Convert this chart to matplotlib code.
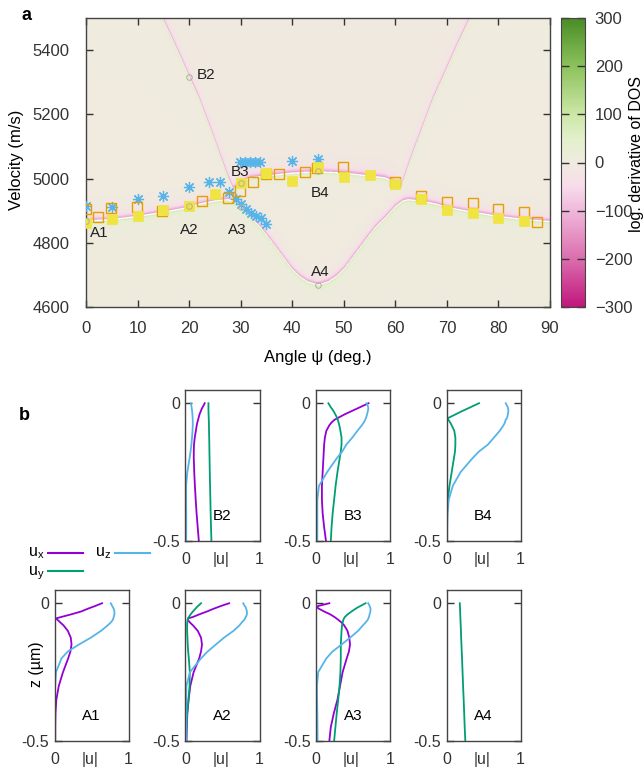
import numpy as np
import matplotlib.pyplot as plt
from matplotlib.colors import LinearSegmentedColormap
from matplotlib.lines import Line2D

plt.rcParams['font.family'] = ['Liberation Sans', 'DejaVu Sans']
plt.rcParams['mathtext.fontset'] = 'custom'
plt.rcParams['mathtext.rm'] = 'Liberation Sans'
plt.rcParams['mathtext.it'] = 'Liberation Sans'

# ---------------- panel a ----------------
# branches seen in the DOS map (angle in deg, velocity in m/s)
lo_psi = [0, 5, 10, 15, 20, 22, 25, 27.5, 28.5, 30, 32, 34, 36, 38, 40, 41.5, 43, 45,
          47, 48.5, 50, 52, 54, 56, 58, 60, 61.5, 62.5, 65, 68, 70, 75, 80, 85, 90]
lo_v = [4868, 4872, 4882, 4895, 4910, 4920, 4930, 4934, 4930, 4912, 4877, 4845, 4803, 4760, 4717, 4694, 4678, 4668,
        4678, 4694, 4717, 4760, 4803, 4845, 4877, 4912, 4930, 4934, 4930, 4920, 4910, 4895, 4882, 4872, 4866]
hi_psi = [10, 14.8, 17, 20, 22, 24, 26, 27.5, 28.5, 29.3, 30, 32, 35, 40, 45,
          50, 55, 58, 60, 60.5, 61, 61.8, 63.3, 65.3, 67.3, 69.3, 72.3, 74.5, 79.3]
hi_v = [5660, 5500, 5425, 5317, 5246, 5160, 5072, 5005, 4968, 4975, 4988, 5002, 5008, 5017, 5021,
        5017, 5008, 5002, 4988, 4975, 4968, 5005, 5075, 5160, 5246, 5317, 5425, 5500, 5660]

# measured points
ast_psi = [0, 5, 10, 15, 20, 23.8, 26, 27.8, 29.1, 30.1, 31.1, 32.0, 33.0, 34.0, 34.9,
           29.8, 30.8, 31.8, 32.8, 33.8, 40, 45]
ast_v = [4914, 4910, 4936, 4946, 4975, 4988, 4988, 4958, 4935, 4920, 4905, 4893, 4884, 4877, 4858,
         5053, 5053, 5053, 5053, 5053, 5054, 5061]
sq_open_psi = [0, 2.3, 4.8, 9.8, 14.8, 22.5, 27.5, 29.9, 32.4, 34.9, 37.4, 42.4, 44.9, 49.9,
               60, 64.9, 70, 75, 80, 85, 87.4]
sq_open_v = [4905, 4879, 4907, 4912, 4900, 4930, 4938, 4962, 4989, 5015, 5015, 5020, 5032, 5037,
             4988, 4947, 4928, 4923, 4905, 4897, 4865]
sq_full_psi = [0, 5, 10, 15, 20, 25, 30, 35, 40, 45, 50, 55, 60, 65, 70, 75, 80, 85]
sq_full_v = [4863, 4875, 4882, 4903, 4914, 4951, 4986, 5016, 4992, 5036, 5006, 5010, 4984, 4935,
             4903, 4894, 4878, 4868]

pt_names = ['A1', 'A2', 'A3', 'A4', 'B2', 'B3', 'B4']
pt_psi = [0, 20, 30, 45, 20, 30, 45]
pt_v = [4868, 4913, 4910, 4668, 5317, 4987, 5022]
lab_psi = [2.5, 20, 29.3, 45.4, 23.2, 29.9, 45.4]
lab_v = [4830, 4840, 4840, 4710, 5321, 5019, 4955]

# ---------------- panel b ----------------
Z = [0, -0.01, -0.015, -0.02, -0.03, -0.04, -0.05, -0.055, -0.06, -0.07, -0.08, -0.1,
     -0.125, -0.15, -0.175, -0.2, -0.25, -0.3, -0.35, -0.4, -0.45, -0.5]

b2_ux = [0.26, 0.24, 0.23, 0.22, 0.205, 0.19, 0.18, 0.175, 0.17, 0.16, 0.152, 0.14,
         0.125, 0.115, 0.112, 0.112, 0.118, 0.127, 0.138, 0.15, 0.165, 0.18]
b2_uy = [0.31, 0.31, 0.31, 0.31, 0.311, 0.312, 0.313, 0.314, 0.315, 0.316, 0.317, 0.318,
         0.32, 0.322, 0.323, 0.325, 0.328, 0.332, 0.336, 0.34, 0.345, 0.35]
b2_uz = [0.07, 0.08, 0.083, 0.085, 0.09, 0.093, 0.096, 0.097, 0.098, 0.098, 0.098, 0.095,
         0.088, 0.08, 0.068, 0.055, 0.025, 0.008, 0.008, 0.01, 0.01, 0.01]

b3_ux = [0.71, 0.63, 0.59, 0.55, 0.47, 0.39, 0.32, 0.285, 0.25, 0.21, 0.18, 0.14,
         0.12, 0.11, 0.105, 0.10, 0.09, 0.08, 0.08, 0.09, 0.11, 0.135]
b3_uy = [0.167, 0.19, 0.2, 0.215, 0.24, 0.26, 0.28, 0.287, 0.295, 0.305, 0.315, 0.33,
         0.345, 0.345, 0.335, 0.32, 0.29, 0.265, 0.245, 0.225, 0.21, 0.20]
b3_uz = [0.685, 0.70, 0.705, 0.707, 0.70, 0.69, 0.68, 0.672, 0.665, 0.645, 0.62, 0.56,
         0.49, 0.41, 0.355, 0.28, 0.15, 0.04, 0.018, 0.018, 0.018, 0.018]

b4_ux = [0.0] * 22
b4_uy = [0.44, 0.36, 0.32, 0.28, 0.20, 0.125, 0.05, 0.012, 0.025, 0.05, 0.07, 0.105,
         0.12, 0.12, 0.115, 0.10, 0.07, 0.04, 0.018, 0.008, 0.004, 0.0]
b4_uz = [0.80, 0.82, 0.828, 0.835, 0.835, 0.83, 0.82, 0.815, 0.80, 0.79, 0.77, 0.72,
         0.64, 0.56, 0.44, 0.35, 0.19, 0.085, 0.03, 0.015, 0.01, 0.01]

a1_ux = [0.643, 0.55, 0.50, 0.45, 0.36, 0.23, 0.09, 0.02, 0.04, 0.08, 0.12, 0.18,
         0.22, 0.23, 0.215, 0.185, 0.115, 0.058, 0.025, 0.013, 0.01, 0.01]
a1_uy = [0.004] * 22
a1_uz = [0.76, 0.78, 0.79, 0.80, 0.81, 0.81, 0.80, 0.795, 0.79, 0.76, 0.72, 0.63,
         0.49, 0.33, 0.18, 0.095, 0.02, 0.008, 0.006, 0.005, 0.005, 0.005]

a2_ux = [0.59, 0.48, 0.43, 0.38, 0.29, 0.19, 0.10, 0.035, 0.03, 0.06, 0.10, 0.165,
         0.21, 0.223, 0.21, 0.185, 0.11, 0.065, 0.042, 0.025, 0.018, 0.013]
a2_uy = [0.21, 0.17, 0.15, 0.134, 0.10, 0.07, 0.045, 0.035, 0.03, 0.024, 0.022, 0.022,
         0.026, 0.03, 0.036, 0.045, 0.058, 0.055, 0.04, 0.022, 0.014, 0.01]
a2_uz = [0.78, 0.80, 0.815, 0.82, 0.83, 0.83, 0.815, 0.805, 0.795, 0.76, 0.73, 0.65,
         0.52, 0.41, 0.30, 0.21, 0.06, 0.012, 0.01, 0.01, 0.01, 0.01]

a3_ux = [0.18, 0.03, 0.01, 0.04, 0.11, 0.19, 0.25, 0.275, 0.30, 0.345, 0.38, 0.425,
         0.45, 0.46, 0.445, 0.415, 0.36, 0.325, 0.29, 0.24, 0.20, 0.18]
a3_uy = [0.67, 0.60, 0.565, 0.535, 0.48, 0.43, 0.39, 0.378, 0.37, 0.36, 0.352, 0.345,
         0.34, 0.335, 0.335, 0.335, 0.33, 0.318, 0.30, 0.28, 0.262, 0.245]
a3_uz = [0.705, 0.725, 0.732, 0.737, 0.735, 0.725, 0.715, 0.707, 0.70, 0.67, 0.635, 0.57,
         0.46, 0.345, 0.225, 0.14, 0.03, 0.013, 0.015, 0.018, 0.02, 0.022]

a4_ux = [0.0] * 22
a4_uy = [0.180, 0.181, 0.182, 0.183, 0.184, 0.186, 0.187, 0.188, 0.189, 0.190, 0.192, 0.195,
         0.198, 0.202, 0.206, 0.21, 0.217, 0.224, 0.232, 0.239, 0.246, 0.254]
a4_uz = [0.0] * 22

C_X, C_Y, C_Z = '#9400d3', '#009e73', '#56b4e9'

fig = plt.figure(figsize=(6.43, 7.68), dpi=100)
W, H = 643., 768.


def px_axes(l, t, w, h):
    return fig.add_axes([l / W, 1 - (t + h) / H, w / W, h / H])


# ---- DOS map ----
cmap = LinearSegmentedColormap.from_list('dos', [
    (0.0, '#c0177c'), (1 / 6, '#db6eae'), (2 / 6, '#efb8da'), (2.5 / 6, '#f7dcea'),
    (0.5, '#f0ebdf'), (3.5 / 6, '#e2f0cb'), (4 / 6, '#cce7a7'), (5 / 6, '#8cc25c'), (1.0, '#4a8c26')])
cmap.set_bad('white')

P = np.linspace(0, 90, 1801)
V = np.linspace(4600, 5500, 901)
field = np.zeros((V.size, P.size))
core = np.zeros(field.shape, dtype=bool)
for bp, bv in [(lo_psi, lo_v), (hi_psi, hi_v)]:
    d = V[:, None] - np.interp(P, bp, bv)[None, :]
    dp = np.clip(d, 0, None)
    dm = np.clip(d, None, 0)
    above = -(170 * np.exp(-dp / 8) + 25 * np.exp(-dp / 30) + 3)
    below = 140 * np.exp(dm / 5) + 10 * np.exp(dm / 25) + 3
    field += np.where(d >= 0, above, below)
    core |= np.abs(d) < 2.2
field = np.ma.masked_where(core, field)

ax = px_axes(86, 18, 464, 289)
im = ax.imshow(field, extent=[0, 90, 4600, 5500], origin='lower', aspect='auto',
               cmap=cmap, vmin=-300, vmax=300, zorder=0)
ax.plot(ast_psi, ast_v, ls='none', marker=(8, 2, 0), ms=8, mew=0.9, color=C_Z, zorder=3)
ax.plot(sq_open_psi, sq_open_v, ls='none', marker='s', ms=6.5, mfc='none', mec='#e69f00', mew=1.0, zorder=4)
ax.plot(sq_full_psi, sq_full_v, ls='none', marker='s', ms=7, mfc='#f0e442', mec='#f0e442', mew=0.5, zorder=5)
ax.plot(pt_psi, pt_v, ls='none', marker='o', ms=4, mfc='none', mec='#b0b0a0', mew=0.7, zorder=6)
for name, x, y in zip(pt_names, lab_psi, lab_v):
    ax.text(x, y, name, fontsize=11, ha='center', va='center', color='#222222', zorder=7)
ax.set_xlim(0, 90)
ax.set_ylim(4600, 5500)
ax.set_xticks(range(0, 91, 10))
ax.set_yticks(range(4600, 5401, 200))
ax.tick_params(direction='in', length=5, width=1, top=True, right=True, labelsize=12, colors='#333333')
ax.tick_params(axis='x', pad=10)
ax.tick_params(axis='y', pad=12)
for s in ax.spines.values():
    s.set_color('#444444')
    s.set_linewidth(1.0)

cax = px_axes(561, 18, 24, 289)
cb = fig.colorbar(im, cax=cax, ticks=range(-300, 301, 100))
cb.outline.set_edgecolor('#444444')
cax.yaxis.set_ticks_position('both')
cax.tick_params(direction='in', length=6, width=1, left=True, right=True, labelleft=False,
                labelright=True, labelsize=12, pad=7, colors='#333333')

fig.text(17 / W, 1 - 160 / H, 'Velocity (m/s)', rotation=90, ha='center', va='center', fontsize=12)
fig.text(318 / W, 1 - 358 / H, 'Angle ψ (deg.)', ha='center', va='center', fontsize=12)
fig.text(636 / W, 1 - 154 / H, 'log. derivative of DOS', rotation=90, ha='center', va='center', fontsize=11.5)
fig.text(27 / W, 1 - 15 / H, 'a', ha='center', va='center', fontsize=13, fontweight='bold')
fig.text(24 / W, 1 - 415 / H, 'b', ha='center', va='center', fontsize=13, fontweight='bold')

# ---- mode profiles ----
panels = [
    ('B2', 185.5, 390, b2_ux, b2_uy, b2_uz),
    ('B3', 316, 390, b3_ux, b3_uy, b3_uz),
    ('B4', 446.5, 390, b4_ux, b4_uy, b4_uz),
    ('A1', 54.5, 590, a1_ux, a1_uy, a1_uz),
    ('A2', 185.5, 590, a2_ux, a2_uy, a2_uz),
    ('A3', 316, 590, a3_ux, a3_uy, a3_uz),
    ('A4', 446.5, 590, a4_ux, a4_uy, a4_uz),
]
for name, l, t, ux, uy, uz in panels:
    bx = px_axes(l, t, 74, 151)
    bx.plot(ux, Z, color=C_X, lw=1.3)
    bx.plot(uy, Z, color=C_Y, lw=1.3)
    bx.plot(uz, Z, color=C_Z, lw=1.3)
    bx.set_xlim(0, 1)
    bx.set_ylim(-0.5, 0.048)
    bx.set_yticks([0, -0.5])
    bx.set_yticklabels(['0', '-0.5'])
    bx.set_xticks([0, 0.48, 1])
    bx.set_xticklabels(['0', '|u|', '1'])
    bx.tick_params(axis='y', direction='in', length=5, width=1, left=True, right=True, pad=4,
                   labelsize=11.5, colors='#333333')
    bx.tick_params(axis='x', length=0, pad=8, labelsize=11.5, colors='#333333')
    for s in bx.spines.values():
        s.set_color('#444444')
        s.set_linewidth(1.0)
    bx.text(0.5, -0.41, name, fontsize=11, ha='center', va='center')

fig.text(37 / W, 1 - 664 / H, 'z (µm)', rotation=90, ha='center', va='center', fontsize=11.5)

# legend
fig.text(28 / W, 1 - 553 / H, r'u$_\mathrm{x}$', ha='left', va='center', fontsize=11.5)
fig.text(95 / W, 1 - 553 / H, r'u$_\mathrm{z}$', ha='left', va='center', fontsize=11.5)
fig.text(28 / W, 1 - 573 / H, r'u$_\mathrm{y}$', ha='left', va='center', fontsize=11.5)
for x0, x1, y, c in [(48, 83, 553, C_X), (115, 150, 553, C_Z), (48, 83, 571, C_Y)]:
    fig.add_artist(Line2D([x0 / W, x1 / W], [1 - y / H, 1 - y / H], color=c, lw=1.5))

fig.savefig('out.png', dpi=100)
